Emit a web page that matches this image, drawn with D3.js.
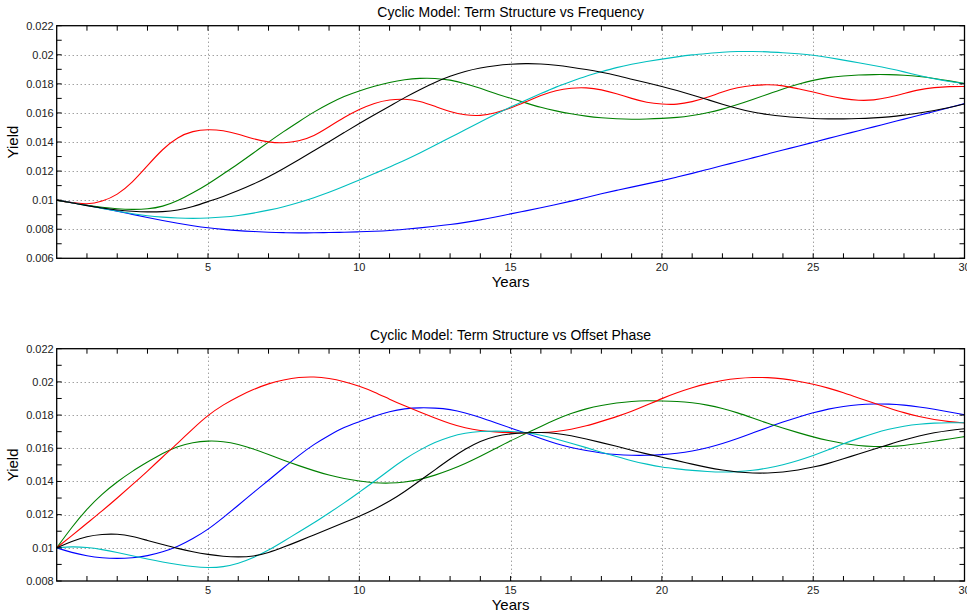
<!DOCTYPE html>
<html>
<head>
<meta charset="utf-8">
<script src="https://cdn.jsdelivr.net/npm/d3@7"></script>
<style>
  html, body { margin: 0; padding: 0; background: #fff; }
  svg { display: block; font-family: "Liberation Sans", Arial, Helvetica, sans-serif; }
</style>
</head>
<body>
<svg id="chart" width="967" height="614"></svg>
<script>
// ---------------- DATA ----------------
const years = [0,0.5,1,1.5,2,2.5,3,3.5,4,4.5,5,5.5,6,6.5,7,7.5,8,8.5,9,9.5,10,
  10.5,11,11.5,12,12.5,13,13.5,14,14.5,15,15.5,16,16.5,17,17.5,18,18.5,19,19.5,20,
  20.5,21,21.5,22,22.5,23,23.5,24,24.5,25,25.5,26,26.5,27,27.5,28,28.5,29,29.5,30];

// Top panel: Term Structure vs Frequency
const freqBlue = [0.01000,0.00983,0.00965,0.00945,0.00925,0.00902,0.00880,0.00860,0.00841,0.00824,0.00809,0.00799,0.00790,0.00784,0.00779,0.00776,0.00775,0.00775,0.00777,0.00779,0.00782,
  0.00786,0.00791,0.00800,0.00809,0.00820,0.00832,0.00847,0.00864,0.00884,0.00906,0.00926,0.00947,0.00970,0.00993,0.01018,0.01044,0.01067,0.01090,0.01112,0.01134,
  0.01159,0.01184,0.01211,0.01238,0.01264,0.01291,0.01318,0.01345,0.01371,0.01398,0.01425,0.01451,0.01478,0.01504,0.01531,0.01557,0.01584,0.01610,0.01637,0.01664];
const freqGreen = [0.01000,0.00982,0.00964,0.00950,0.00940,0.00935,0.00938,0.00955,0.00995,0.01050,0.01110,0.01180,0.01250,0.01324,0.01400,0.01472,0.01540,0.01607,0.01664,0.01715,0.01752,
  0.01784,0.01811,0.01830,0.01839,0.01839,0.01828,0.01802,0.01770,0.01733,0.01701,0.01669,0.01637,0.01614,0.01593,0.01577,0.01566,0.01559,0.01556,0.01558,0.01562,
  0.01568,0.01582,0.01600,0.01625,0.01657,0.01692,0.01729,0.01766,0.01798,0.01825,0.01844,0.01855,0.01862,0.01864,0.01864,0.01860,0.01851,0.01837,0.01821,0.01802];
const freqRed = [0.01000,0.00982,0.00970,0.00990,0.01035,0.01120,0.01238,0.01352,0.01435,0.01476,0.01488,0.01480,0.01455,0.01420,0.01398,0.01392,0.01405,0.01440,0.01505,0.01570,0.01625,
  0.01669,0.01692,0.01697,0.01683,0.01646,0.01607,0.01584,0.01579,0.01600,0.01632,0.01676,0.01722,0.01756,0.01772,0.01775,0.01761,0.01733,0.01699,0.01671,0.01660,
  0.01657,0.01676,0.01706,0.01745,0.01775,0.01791,0.01795,0.01789,0.01766,0.01745,0.01717,0.01697,0.01685,0.01687,0.01706,0.01733,0.01761,0.01775,0.01782,0.01782];
const freqCyan = [0.01000,0.00982,0.00963,0.00943,0.00925,0.00906,0.00892,0.00883,0.00876,0.00874,0.00876,0.00883,0.00894,0.00910,0.00931,0.00954,0.00984,0.01016,0.01053,0.01094,0.01140,
  0.01182,0.01228,0.01274,0.01324,0.01377,0.01430,0.01485,0.01538,0.01591,0.01641,0.01687,0.01733,0.01779,0.01816,0.01853,0.01883,0.01913,0.01936,0.01954,0.01970,
  0.01986,0.02000,0.02009,0.02018,0.02023,0.02023,0.02021,0.02014,0.02007,0.01998,0.01982,0.01963,0.01945,0.01926,0.01906,0.01883,0.01857,0.01834,0.01816,0.01802];
const freqBlack = [0.01000,0.00982,0.00962,0.00945,0.00932,0.00923,0.00918,0.00920,0.00930,0.00955,0.00990,0.01025,0.01065,0.01110,0.01160,0.01218,0.01278,0.01340,0.01402,0.01465,0.01528,
  0.01588,0.01646,0.01706,0.01761,0.01811,0.01853,0.01887,0.01910,0.01926,0.01936,0.01940,0.01938,0.01929,0.01915,0.01899,0.01880,0.01858,0.01832,0.01807,0.01782,
  0.01754,0.01724,0.01692,0.01660,0.01630,0.01605,0.01589,0.01577,0.01568,0.01561,0.01559,0.01559,0.01561,0.01566,0.01572,0.01584,0.01600,0.01616,0.01637,0.01662];

// Bottom panel: Term Structure vs Offset Phase
const phaseBlue = [0.01000,0.00971,0.00951,0.00939,0.00935,0.00939,0.00951,0.00975,0.01007,0.01055,0.01110,0.01182,0.01256,0.01333,0.01407,0.01483,0.01557,0.01624,0.01678,0.01728,0.01760,
  0.01794,0.01822,0.01839,0.01845,0.01843,0.01835,0.01814,0.01786,0.01754,0.01722,0.01692,0.01658,0.01628,0.01604,0.01586,0.01571,0.01561,0.01557,0.01557,0.01561,
  0.01569,0.01582,0.01602,0.01628,0.01658,0.01692,0.01726,0.01758,0.01788,0.01814,0.01837,0.01853,0.01863,0.01867,0.01867,0.01861,0.01849,0.01835,0.01819,0.01802];
const phaseGreen = [0.01000,0.01125,0.01235,0.01325,0.01398,0.01462,0.01517,0.01570,0.01612,0.01636,0.01645,0.01642,0.01625,0.01596,0.01562,0.01527,0.01495,0.01465,0.01437,0.01417,0.01402,
  0.01391,0.01389,0.01395,0.01411,0.01437,0.01469,0.01507,0.01551,0.01598,0.01646,0.01688,0.01732,0.01774,0.01810,0.01839,0.01859,0.01873,0.01883,0.01887,0.01885,
  0.01883,0.01875,0.01861,0.01841,0.01814,0.01782,0.01750,0.01722,0.01694,0.01668,0.01646,0.01628,0.01616,0.01610,0.01610,0.01616,0.01628,0.01642,0.01656,0.01670];
const phaseRed = [0.01000,0.01073,0.01148,0.01222,0.01300,0.01380,0.01462,0.01548,0.01630,0.01718,0.01800,0.01862,0.01912,0.01955,0.01990,0.02013,0.02028,0.02031,0.02022,0.02002,0.01975,
  0.01939,0.01895,0.01855,0.01818,0.01782,0.01748,0.01722,0.01706,0.01698,0.01694,0.01692,0.01694,0.01700,0.01714,0.01734,0.01762,0.01790,0.01822,0.01860,0.01900,
  0.01935,0.01965,0.01991,0.02009,0.02021,0.02027,0.02027,0.02019,0.02005,0.01987,0.01963,0.01935,0.01903,0.01873,0.01843,0.01814,0.01790,0.01772,0.01760,0.01752];
const phaseCyan = [0.01000,0.01008,0.01003,0.00990,0.00972,0.00952,0.00932,0.00914,0.00899,0.00886,0.00880,0.00884,0.00905,0.00940,0.00985,0.01040,0.01095,0.01150,0.01210,0.01270,0.01335,
  0.01400,0.01470,0.01536,0.01590,0.01636,0.01670,0.01692,0.01702,0.01704,0.01702,0.01696,0.01680,0.01656,0.01630,0.01604,0.01576,0.01550,0.01524,0.01504,0.01486,
  0.01476,0.01466,0.01460,0.01456,0.01458,0.01466,0.01480,0.01500,0.01526,0.01556,0.01590,0.01628,0.01660,0.01690,0.01716,0.01734,0.01746,0.01752,0.01754,0.01754];
const phaseBlack = [0.01000,0.01040,0.01070,0.01082,0.01084,0.01070,0.01044,0.01020,0.00996,0.00976,0.00960,0.00948,0.00944,0.00948,0.00970,0.01004,0.01040,0.01078,0.01115,0.01152,0.01190,
  0.01232,0.01280,0.01338,0.01404,0.01470,0.01536,0.01596,0.01644,0.01674,0.01688,0.01694,0.01696,0.01690,0.01676,0.01656,0.01634,0.01612,0.01588,0.01566,0.01545,
  0.01526,0.01504,0.01484,0.01468,0.01456,0.01450,0.01450,0.01456,0.01468,0.01486,0.01508,0.01536,0.01566,0.01594,0.01622,0.01650,0.01674,0.01694,0.01708,0.01718];

// Ticks
const xMajorTicks = [5, 10, 15, 20, 25, 30];
const xMajorLabels = ["5", "10", "15", "20", "25", "30"];
const xMinorTicks = [1,2,3,4,6,7,8,9,11,12,13,14,16,17,18,19,21,22,23,24,26,27,28,29];
const topYTicks = [0.006, 0.008, 0.010, 0.012, 0.014, 0.016, 0.018, 0.020, 0.022];
const topYLabels = ["0.006", "0.008", "0.01", "0.012", "0.014", "0.016", "0.018", "0.02", "0.022"];
const topYMinor = [0.007, 0.009, 0.011, 0.013, 0.015, 0.017, 0.019, 0.021];
const botYTicks = [0.008, 0.010, 0.012, 0.014, 0.016, 0.018, 0.020, 0.022];
const botYLabels = ["0.008", "0.01", "0.012", "0.014", "0.016", "0.018", "0.02", "0.022"];
const botYMinor = [0.009, 0.011, 0.013, 0.015, 0.017, 0.019, 0.021];

const seriesColors = { blue: "#0000ff", green: "#008000", red: "#ff0000", cyan: "#00bfbf", black: "#000000" };

const panels = [
  { title: "Cyclic Model: Term Structure vs Frequency", top: 25.7, bottom: 258.3,
    yDomain: [0.006, 0.022], yTicks: topYTicks, yLabels: topYLabels, yMinor: topYMinor,
    series: [["blue", freqBlue], ["green", freqGreen], ["red", freqRed], ["cyan", freqCyan], ["black", freqBlack]] },
  { title: "Cyclic Model: Term Structure vs Offset Phase", top: 348.7, bottom: 581,
    yDomain: [0.008, 0.022], yTicks: botYTicks, yLabels: botYLabels, yMinor: botYMinor,
    series: [["blue", phaseBlue], ["green", phaseGreen], ["red", phaseRed], ["cyan", phaseCyan], ["black", phaseBlack]] }
];

// ---------------- DRAW ----------------
const svg = d3.select("#chart");
const left = 56.7, right = 964.5;
const tickLen = 5;

panels.forEach(p => {
  const x = d3.scaleLinear().domain([0, 30]).range([left, right]);
  const y = d3.scaleLinear().domain(p.yDomain).range([p.bottom, p.top]);
  const g = svg.append("g");

  // grid (dotted)
  const grid = g.append("g").attr("stroke", "#777").attr("stroke-width", 1)
    .attr("stroke-dasharray", "1,3").attr("fill", "none");
  xMajorTicks.filter(t => t > 0 && t < 30).forEach(t => {
    grid.append("line").attr("x1", Math.round(x(t)) + 0.5).attr("x2", Math.round(x(t)) + 0.5)
      .attr("y1", p.top).attr("y2", p.bottom);
  });
  p.yTicks.filter(v => v > p.yDomain[0] + 1e-9 && v < p.yDomain[1] - 1e-9).forEach(v => {
    grid.append("line").attr("x1", left).attr("x2", right)
      .attr("y1", Math.round(y(v)) + 0.5).attr("y2", Math.round(y(v)) + 0.5);
  });

  // lines
  const line = d3.line().x((d, i) => x(years[i])).y(d => y(d)).curve(d3.curveBasis);
  p.series.forEach(([c, vals]) => {
    g.append("path").datum(vals).attr("d", line)
      .attr("fill", "none").attr("stroke", seriesColors[c]).attr("stroke-width", 1.1);
  });

  // axes with inward ticks on all sides
  const axG = g.append("g").attr("stroke", "#000").attr("stroke-width", 1);
  const allX = xMajorTicks.concat(xMinorTicks);
  allX.forEach(t => {
    const xx = x(t);
    axG.append("line").attr("x1", xx).attr("x2", xx).attr("y1", p.bottom).attr("y2", p.bottom - tickLen);
    axG.append("line").attr("x1", xx).attr("x2", xx).attr("y1", p.top).attr("y2", p.top + tickLen);
  });
  p.yTicks.concat(p.yMinor).forEach(v => {
    const yy = y(v);
    axG.append("line").attr("x1", left).attr("x2", left + tickLen).attr("y1", yy).attr("y2", yy);
    axG.append("line").attr("x1", right).attr("x2", right - tickLen).attr("y1", yy).attr("y2", yy);
  });
  g.append("rect").attr("x", left).attr("y", p.top).attr("width", right - left).attr("height", p.bottom - p.top)
    .attr("fill", "none").attr("stroke", "#000").attr("stroke-width", 1.3);

  // tick labels
  xMajorTicks.forEach((t, i) => {
    g.append("text").attr("x", x(t)).attr("y", p.bottom + 13).attr("text-anchor", "middle")
      .attr("font-size", 11).attr("fill", "#222").text(xMajorLabels[i]);
  });
  p.yTicks.forEach((v, i) => {
    g.append("text").attr("x", left - 3).attr("y", y(v)).attr("dy", "0.35em").attr("text-anchor", "end")
      .attr("font-size", 11).attr("fill", "#222").text(p.yLabels[i]);
  });

  // titles & labels
  g.append("text").attr("x", (left + right) / 2).attr("y", p.top - 9).attr("text-anchor", "middle")
    .attr("font-size", 14).attr("fill", "#000").text(p.title);
  g.append("text").attr("x", (left + right) / 2).attr("y", p.bottom + 29).attr("text-anchor", "middle")
    .attr("font-size", 15).attr("fill", "#000").text("Years");
  g.append("text").attr("transform", `translate(18,${(p.top + p.bottom) / 2}) rotate(-90)`)
    .attr("text-anchor", "middle").attr("font-size", 15).attr("fill", "#000").text("Yield");
});
</script>
</body>
</html>
